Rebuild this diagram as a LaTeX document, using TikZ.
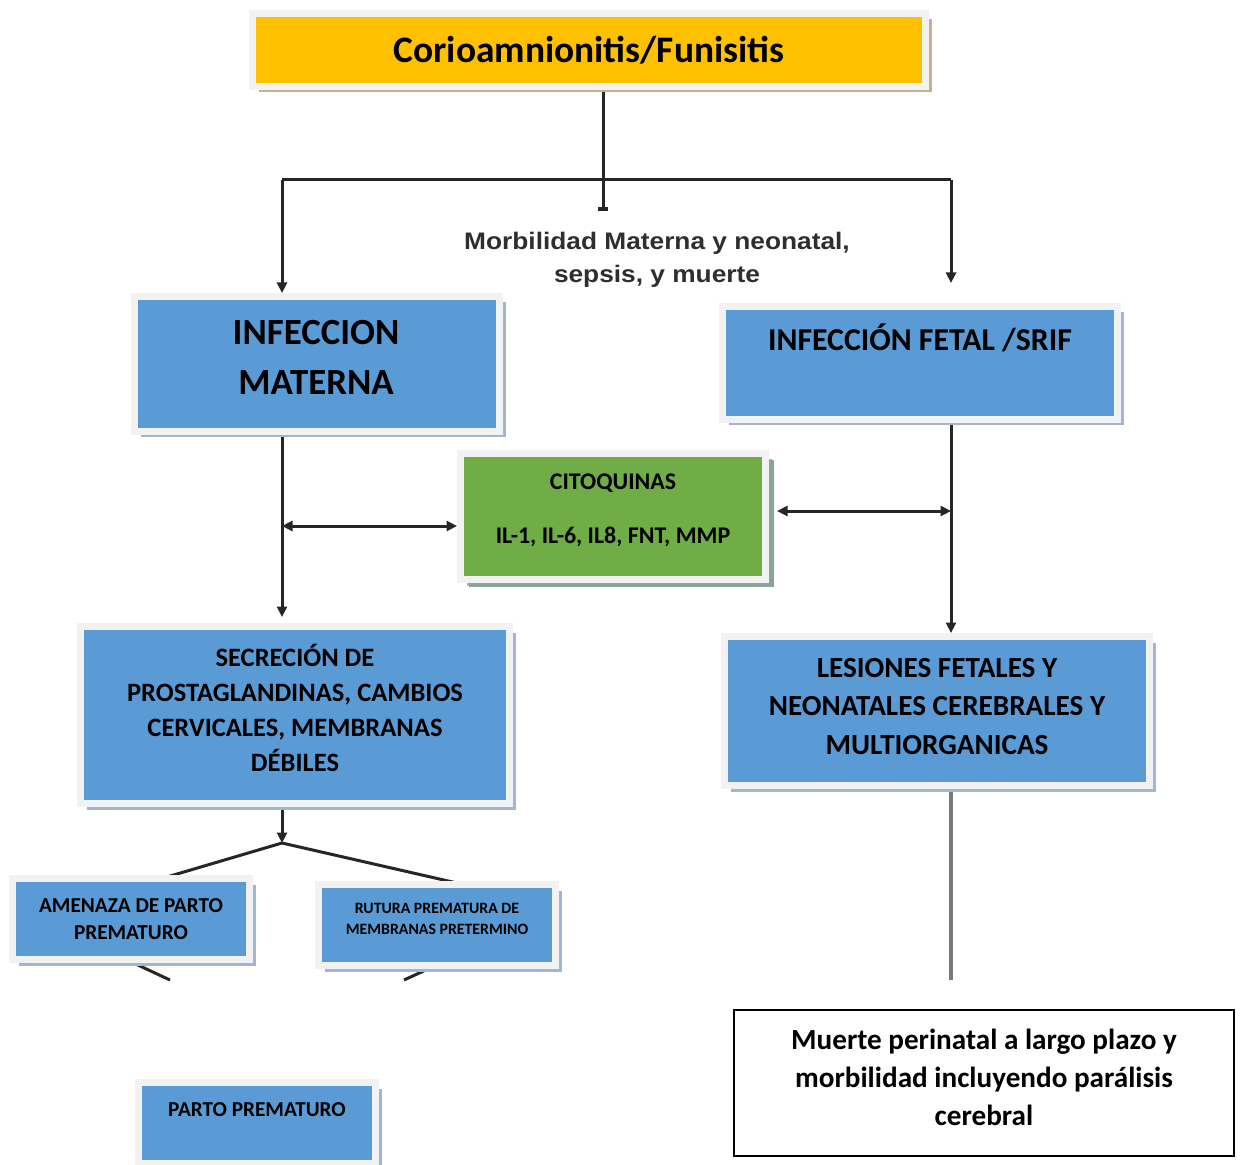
\documentclass[tikz,border=0pt]{standalone}
\usepackage{fontspec}
\setmainfont{Carlito}
\newfontfamily\arialf{Liberation Sans}
\usetikzlibrary{arrows.meta,shadows}
\definecolor{ygold}{HTML}{FFC000}
\definecolor{bbox}{HTML}{5B9BD5}
\definecolor{gbox}{HTML}{70AD47}
\definecolor{frameg}{HTML}{F2F2F2}
\definecolor{tanshadow}{HTML}{C4B38A}
\definecolor{blueshadow}{HTML}{9FB6D4}
\definecolor{greenshadow}{HTML}{8AA39B}
\definecolor{linec}{HTML}{262626}
\definecolor{linelight}{HTML}{7A7A7A}
\definecolor{labelc}{HTML}{2E2E2E}
\newlength\pxu \setlength\pxu{0.02cm}
\pgfdeclarelayer{bg}\pgfsetlayers{bg,main}
\begin{document}
\begin{tikzpicture}[x=0.02cm,y=-0.02cm,
  boxs/.style={rectangle, inner sep=0pt, fill=bbox, draw=frameg, line width=7\pxu,
    drop shadow={shadow xshift=6\pxu, shadow yshift=-6\pxu, fill=blueshadow, opacity=1}},
  ybox/.style={boxs, fill=ygold, drop shadow={shadow xshift=6\pxu, shadow yshift=-6\pxu, fill=tanshadow, opacity=1}},
  gboxs/.style={boxs, fill=gbox, drop shadow={shadow xshift=8\pxu, shadow yshift=-7\pxu, fill=greenshadow, opacity=1}},
  wbox/.style={rectangle, inner sep=0pt, fill=white, draw=black, line width=2\pxu},
  txt/.style={inner sep=0pt, anchor=base, font=\bfseries},
  conn/.style={draw=linec, line width=3\pxu},
  connlight/.style={draw=linelight, line width=3.2\pxu},
  tip/.tip={Triangle[length=0.21cm,width=0.2cm]}
]
\useasboundingbox (0,0) rectangle (1240,1165);

% boxes
\node[ybox, minimum width=673\pxu, minimum height=73\pxu] (top) at (589,50) {};
\node[boxs, minimum width=365\pxu, minimum height=135\pxu] (infmat) at (317,364) {};
\node[boxs, minimum width=395\pxu, minimum height=113\pxu] (fetal) at (920,363) {};
\node[gboxs, minimum width=305\pxu, minimum height=126\pxu] (citoq) at (613,516.5) {};
\node[boxs, minimum width=429\pxu, minimum height=177\pxu] (secre) at (295,715) {};
\node[boxs, minimum width=425\pxu, minimum height=149\pxu] (lesion) at (937,711) {};
\node[boxs, minimum width=237\pxu, minimum height=81\pxu] (amen) at (131,919) {};
\node[boxs, minimum width=237\pxu, minimum height=81\pxu] (rutura) at (437,925) {};
\node[boxs, minimum width=237\pxu, minimum height=81\pxu] (parto) at (257,1123) {};
\node[wbox, minimum width=500\pxu, minimum height=146\pxu] (muerte) at (984,1083) {};

% texts
\node[txt, font=\fontsize{21.3}{26}\selectfont\bfseries] (t1) at (589,62.5) {Corioamnionitis/Funisitis};
\node[txt, font=\fontsize{21}{26}\selectfont\bfseries] (t2a) at (316,345) {INFECCION};
\node[txt, font=\fontsize{21}{26}\selectfont\bfseries] (t2b) at (316,395) {MATERNA};
\node[txt, font=\fontsize{18.1}{22}\selectfont\bfseries] (t3) at (920,350.5) {INFECCIÓN FETAL /SRIF};
\node[txt, font=\fontsize{13.6}{16}\selectfont\bfseries] (t4a) at (613,489) {CITOQUINAS};
\node[txt, font=\fontsize{13.6}{16}\selectfont\bfseries] (t4b) at (613,543) {IL-1, IL-6, IL8, FNT, MMP};
\node[txt, font=\fontsize{15.1}{18}\selectfont\bfseries] (t5a) at (295,666) {SECRECIÓN DE};
\node[txt, font=\fontsize{15.1}{18}\selectfont\bfseries] (t5b) at (295,701) {PROSTAGLANDINAS, CAMBIOS};
\node[txt, font=\fontsize{15.1}{18}\selectfont\bfseries] (t5c) at (295,736) {CERVICALES, MEMBRANAS};
\node[txt, font=\fontsize{15.1}{18}\selectfont\bfseries] (t5d) at (295,771) {DÉBILES};
\node[txt, font=\fontsize{16.6}{20}\selectfont\bfseries] (t6a) at (937,677.5) {LESIONES FETALES Y};
\node[txt, font=\fontsize{16.6}{20}\selectfont\bfseries] (t6b) at (937,715.5) {NEONATALES CEREBRALES Y};
\node[txt, font=\fontsize{16.6}{20}\selectfont\bfseries] (t6c) at (937,754.5) {MULTIORGANICAS};
\node[txt, font=\fontsize{12.1}{15}\selectfont\bfseries] (t7a) at (131,912) {AMENAZA DE PARTO};
\node[txt, font=\fontsize{12.1}{15}\selectfont\bfseries] (t7b) at (131,939) {PREMATURO};
\node[txt, font=\fontsize{9}{11}\selectfont\bfseries] (t8a) at (437,913) {RUTURA PREMATURA DE};
\node[txt, font=\fontsize{9}{11}\selectfont\bfseries] (t8b) at (437,934) {MEMBRANAS PRETERMINO};
\node[txt, font=\fontsize{12.1}{15}\selectfont\bfseries] (t9) at (257,1116) {PARTO PREMATURO};
\node[txt, font=\fontsize{16.6}{20}\selectfont\bfseries] (t10a) at (984,1049) {Muerte perinatal a largo plazo y};
\node[txt, font=\fontsize{16.6}{20}\selectfont\bfseries] (t10b) at (984,1087) {morbilidad incluyendo parálisis};
\node[txt, font=\fontsize{16.6}{20}\selectfont\bfseries] (t10c) at (984,1125) {cerebral};
\node[txt, text=labelc, font=\arialf\fontsize{13.6}{16}\selectfont\bfseries] (lb1) at (657,250) {\scalebox{1.1}[1]{Morbilidad Materna y neonatal,}};
\node[txt, text=labelc, font=\arialf\fontsize{13.6}{16}\selectfont\bfseries] (lb2) at (657,283) {\scalebox{1.1}[1]{sepsis, y muerte}};

% connectors
\coordinate (j0) at (603,211);
\coordinate (hl) at (282,180);
\coordinate (hr) at (951,180);
\coordinate (ca) at (282,526);
\coordinate (cb) at (951,511);
\coordinate (jd) at (282,843);
\coordinate (dl) at (150,882);
\coordinate (dr) at (470,886);
\coordinate (al) at (110,952);
\coordinate (ae) at (170,980);
\coordinate (rl) at (452,958);
\coordinate (re) at (404,980);
\coordinate (le) at (951,980);
\begin{pgfonlayer}{bg}
\draw[conn, -{Rectangle[length=0.07cm,width=0.2cm]}] (j0 |- top.south) -- (j0);
\draw[conn] (hl) -- (hr);
\draw[conn, -tip] (hl) -- (hl |- infmat.north);
\draw[conn, -tip, shorten >=20\pxu] (hr) -- (hr |- fetal.north);
\draw[conn, -tip, shorten >=6\pxu] (hl |- infmat.south) -- (hl |- secre.north);
\draw[conn, tip-tip] (ca) -- (ca -| citoq.west);
\draw[conn, tip-tip, shorten <=8\pxu] (cb -| citoq.east) -- (cb);
\draw[conn, -tip] (hr |- fetal.south) -- (hr |- lesion.north);
\draw[conn, -tip] (hl |- secre.south) -- (jd);
\draw[conn] (jd) -- (dl);
\draw[conn] (jd) -- (dr);
\draw[conn] (al) -- (ae);
\draw[conn] (rl) -- (re);
\draw[connlight] (hr |- lesion.south) -- (le);
\end{pgfonlayer}
\end{tikzpicture}
\end{document}
